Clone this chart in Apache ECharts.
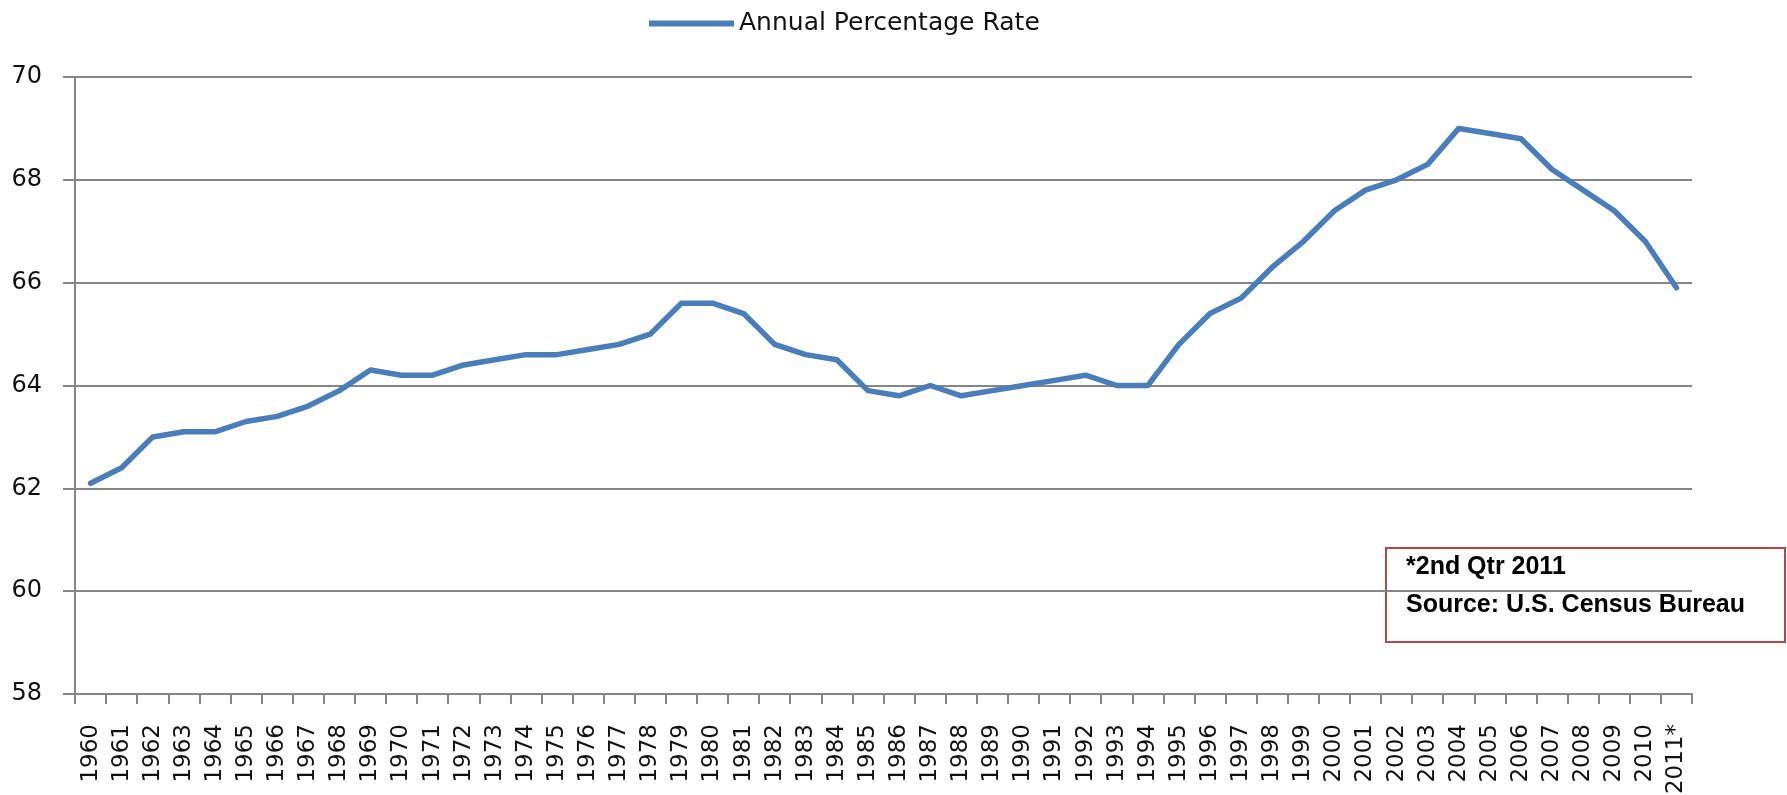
<!DOCTYPE html>
<html>
<head>
<meta charset="utf-8">
<script src="https://cdn.jsdelivr.net/npm/echarts@6/dist/echarts.min.js"></script>
<style>
html,body{margin:0;padding:0;background:#fff;overflow:hidden;}
#chart{width:1787px;height:795px;}
</style>
</head>
<body>
<div id="chart"></div>
<script>
const years = ['1960','1961','1962','1963','1964','1965','1966','1967','1968','1969',
  '1970','1971','1972','1973','1974','1975','1976','1977','1978','1979',
  '1980','1981','1982','1983','1984','1985','1986','1987','1988','1989',
  '1990','1991','1992','1993','1994','1995','1996','1997','1998','1999',
  '2000','2001','2002','2003','2004','2005','2006','2007','2008','2009',
  '2010','2011*'];
const rates = [62.1,62.4,63.0,63.1,63.1,63.3,63.4,63.6,63.9,64.3,
  64.2,64.2,64.4,64.5,64.6,64.6,64.7,64.8,65.0,65.6,
  65.6,65.4,64.8,64.6,64.5,63.9,63.8,64.0,63.8,63.9,
  64.0,64.1,64.2,64.0,64.0,64.8,65.4,65.7,66.3,66.8,
  67.4,67.8,68.0,68.3,69.0,68.9,68.8,68.2,67.8,67.4,
  66.8,65.9];
const seriesName = 'Annual Percentage Rate';
const noteLines = ['*2nd Qtr 2011', 'Source: U.S. Census Bureau'];
const yMin = 58, yMax = 70, yStep = 2;

const chart = echarts.init(document.getElementById('chart'), null, {renderer:'canvas'});
const gray = '#868686';
chart.setOption({
  animation: false,
  backgroundColor: '#ffffff',
  legend: {
    data: [{name: seriesName, icon: 'rect'}],
    left: 644, top: 6,
    itemWidth: 85, itemHeight: 6, itemGap: 3,
    textStyle: {fontFamily: 'DejaVu Sans', fontSize: 25, color: '#111'}
  },
  grid: {left: 75, right: 95, top: 77, bottom: 101, containLabel: false, outerBoundsMode: 'none'},
  xAxis: {
    type: 'category',
    data: years,
    boundaryGap: true,
    axisLine: {lineStyle: {color: gray, width: 2}},
    axisTick: {show: true, interval: 0, length: 10, lineStyle: {color: gray, width: 2}},
    axisLabel: {interval: 0, rotate: 90, margin: 30, fontFamily: 'DejaVu Sans', fontSize: 23, color: '#111'}
  },
  yAxis: {
    type: 'value',
    min: yMin, max: yMax, interval: yStep,
    axisLine: {show: true, lineStyle: {color: gray, width: 2}},
    axisTick: {show: true, length: 12, lineStyle: {color: gray, width: 2}},
    splitLine: {show: true, lineStyle: {color: gray, width: 2}},
    axisLabel: {margin: 33, fontFamily: 'DejaVu Sans', fontSize: 24, color: '#111'}
  },
  series: [{
    name: seriesName,
    type: 'line',
    data: rates,
    symbol: 'none',
    smooth: false,
    lineStyle: {color: '#4a7ebb', width: 5.5, join: 'round', cap: 'round'},
    itemStyle: {color: '#4a7ebb'}
  }],
  graphic: [{
    type: 'group',
    left: 1385, top: 547,
    children: [
      {type: 'rect', shape: {x: 0, y: 0, width: 399, height: 94},
       style: {fill: '#fff', stroke: '#b04a4a', lineWidth: 2}},
      {type: 'text', x: 20, y: 7, style: {text: noteLines[0], font: 'bold 25px "Liberation Sans"', fill: '#000'}},
      {type: 'text', x: 20, y: 45, style: {text: noteLines[1], font: 'bold 25px "Liberation Sans"', fill: '#000'}}
    ]
  }]
});
</script>
</body>
</html>
